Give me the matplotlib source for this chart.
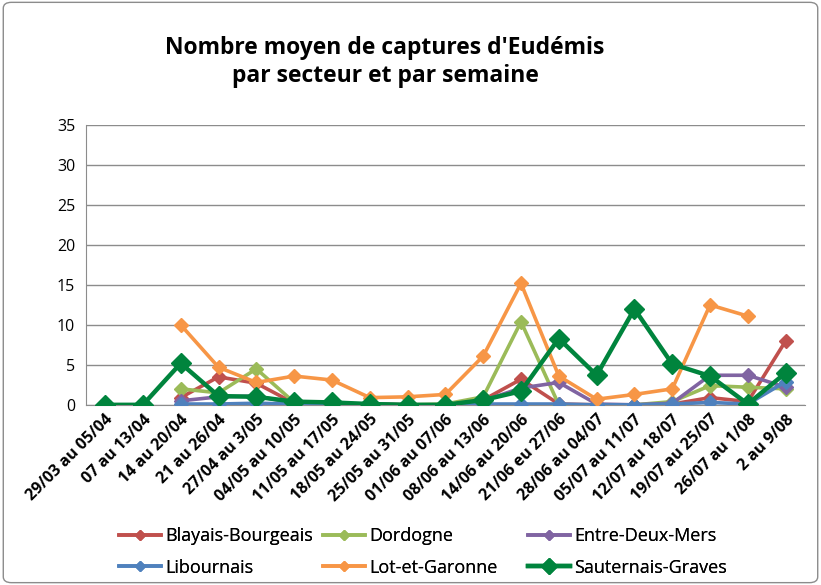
import numpy as np
import matplotlib
matplotlib.use("Agg")
import matplotlib.pyplot as plt
from matplotlib.patches import FancyBboxPatch

plt.rcParams["font.family"] = ["Open Sans", "DejaVu Sans"]

nan = np.nan
weeks = ["29/03 au 05/04", "07 au 13/04", "14 au 20/04", "21 au 26/04", "27/04 au 3/05",
         "04/05 au 10/05", "11/05 au 17/05", "18/05 au 24/05", "25/05 au 31/05",
         "01/06 au 07/06", "08/06 au 13/06", "14/06 au 20/06", "21/06 eu 27/06",
         "28/06 au 04/07", "05/07 au 11/07", "12/07 au 18/07", "19/07 au 25/07",
         "26/07 au 1/08", "2 au 9/08"]

blayais    = [nan, nan, 0.9, 3.5, 2.7, 0.2, 0.1, 0.1, 0.0, 0.0, 0.6, 3.2, 0.1, 0.0, 0.0, 0.1, 0.9, 0.4, 8.0]
dordogne   = [nan, nan, 2.0, 1.5, 4.5, 0.3, 0.2, 0.1, 0.0, 0.1, 1.0, 10.4, 0.0, 0.0, 0.0, 0.4, 2.4, 2.2, 2.0]
entre_deux = [nan, nan, 0.5, 1.0, 1.1, 0.2, 0.1, 0.1, 0.0, 0.0, 0.5, 2.1, 2.8, 0.1, 0.0, 0.2, 3.7, 3.7, 2.2]
libournais = [nan, nan, 0.1, 0.1, 0.2, 0.1, 0.1, 0.0, 0.0, 0.0, 0.1, 0.1, 0.1, 0.0, 0.0, 0.1, 0.3, 0.1, 2.9]
lot_garonne = [nan, nan, 10.0, 4.7, 2.8, 3.6, 3.1, 0.9, 1.0, 1.3, 6.1, 15.2, 3.6, 0.7, 1.3, 2.0, 12.5, 11.1, nan]
sauternais = [0.0, 0.0, 5.2, 1.1, 1.0, 0.4, 0.3, 0.1, 0.0, 0.0, 0.6, 1.7, 8.3, 3.7, 12.0, 5.1, 3.6, 0.1, 4.0]

series = [
    ("Blayais-Bourgeais", blayais, "#C0504D"),
    ("Dordogne", dordogne, "#9BBB59"),
    ("Entre-Deux-Mers", entre_deux, "#8064A2"),
    ("Libournais", libournais, "#4F81BD"),
    ("Lot-et-Garonne", lot_garonne, "#F79646"),
    ("Sauternais-Graves", sauternais, "#00843D"),
]

fig = plt.figure(figsize=(8.21, 5.85), dpi=100)
ax = fig.add_axes([0.105, 0.308, 0.875, 0.478])

x = np.arange(len(weeks))
handles = {}
for i, (name, vals, col) in enumerate(series):
    big = name == "Sauternais-Graves"
    h, = ax.plot(x, vals, color=col, lw=3.2 if big else 2.6, marker="D",
                 ms=10 if big else 7, mec=col, mfc=col, label=name, zorder=3 + i)
    handles[name] = h

ax.set_xlim(-0.5, len(weeks) - 0.5)
ax.set_ylim(0, 35)
ax.set_yticks(range(0, 36, 5))
ax.set_xticks(x)
ax.set_xticklabels(weeks, rotation=45, ha="right", rotation_mode="anchor",
                   fontsize=11.5, fontweight="bold")
ax.tick_params(axis="x", length=0, pad=5)
ax.tick_params(axis="y", length=0, labelsize=11.5, pad=8)
ax.grid(axis="y", color="#8C8C8C", lw=1)
ax.set_axisbelow(True)
for s in ["top", "right"]:
    ax.spines[s].set_visible(False)
ax.spines["left"].set_color("#8C8C8C")
ax.spines["bottom"].set_color("#8C8C8C")

fig.text(0.469, 0.894, "Nombre moyen de captures d'Eudémis\npar secteur et par semaine",
         ha="center", va="center", fontsize=16.5, fontweight="bold", linespacing=1.2)

# legend laid out in three fixed-width columns like Excel
cols = [["Blayais-Bourgeais", "Libournais"],
        ["Dordogne", "Lot-et-Garonne"],
        ["Entre-Deux-Mers", "Sauternais-Graves"]]
col_x = [119 / 821, 323 / 821, 528 / 821]
for names, cx in zip(cols, col_x):
    leg = fig.legend([handles[n] for n in names], names, loc="center left",
                     bbox_to_anchor=(cx, 1 - 552 / 585), frameon=False, fontsize=13,
                     handlelength=2.3, handletextpad=0.25, labelspacing=0.75,
                     borderpad=0, borderaxespad=0, markerscale=0.8)
    fig.add_artist(leg)

border = FancyBboxPatch((0.004, 0.004), 0.992, 0.992, boxstyle="round,pad=0,rounding_size=0.01",
                        transform=fig.transFigure, fill=False, ec="#8C8C8C", lw=1)
fig.add_artist(border)

fig.savefig("out.png", dpi=100)
